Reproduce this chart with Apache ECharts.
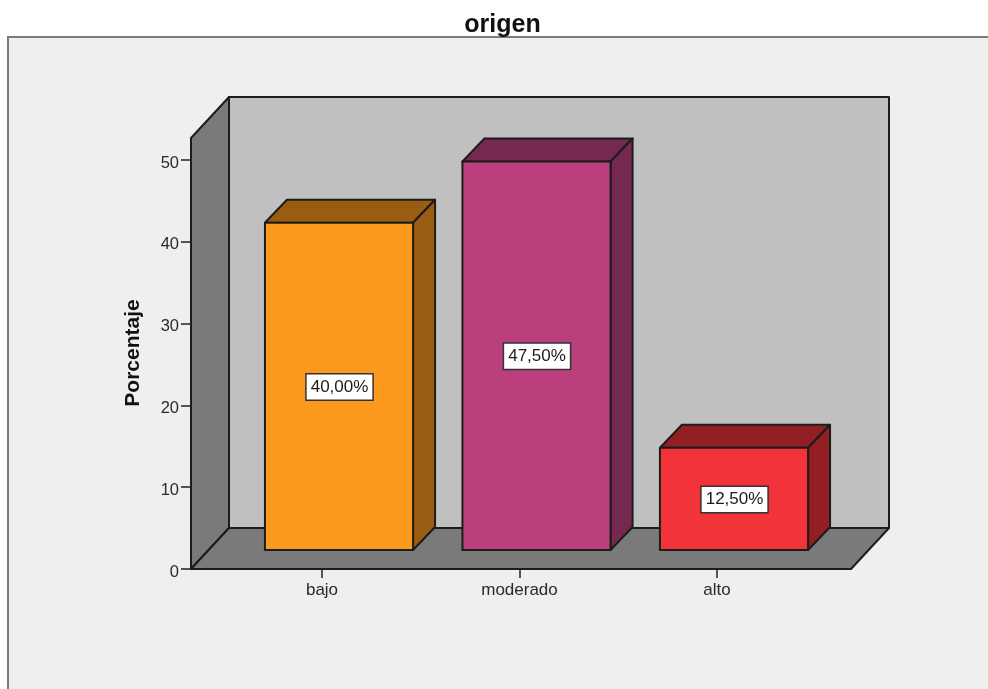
<!DOCTYPE html>
<html>
<head>
<meta charset="utf-8">
<style>
  html, body { margin: 0; padding: 0; background: #ffffff; }
  #chart { width: 988px; height: 689px; }
</style>
<script src="https://cdn.jsdelivr.net/npm/echarts@6/dist/echarts.min.js"></script>
</head>
<body>
<div id="chart"></div>
<script>
// Porcentaje por nivel de origen
const categories = ['bajo', 'moderado', 'alto'];
const porcentajes = [40.0, 47.5, 12.5];
const frontColors = ['#fb9a1d', '#bb3f7c', '#f2333a'];
const shadeColors = ['#9a5c10', '#752950', '#911f24'];
const yTicks = { min: 0, max: 50, interval: 10 };

// Depth of the box: how the floor recedes, and where bars sit on it
const FLOOR_DX = 38, FLOOR_DY = 41;
const BAR_DX = 22, BAR_DY = 23;
const BAR_SHIFT_X = 17, BAR_SHIFT_Y = 19;
const WALL_ABOVE = 22;
const AXIS_OFFSET = 32.25, FLOOR_OVERHANG = 35.25;
const LINE = '#1c1c1c', FONT = '"Liberation Sans", Arial, sans-serif';

const poly = (points, fill) => ({
  type: 'polygon',
  shape: { points },
  style: { fill, stroke: LINE, lineWidth: 2, lineJoin: 'round' }
});

// Back wall, side wall and floor, derived from the plotting area
function renderWalls(params) {
  const cs = params.coordSys;
  const left = cs.x - AXIS_OFFSET, right = cs.x + cs.width + FLOOR_OVERHANG;
  const bottom = cs.y + cs.height, top = cs.y - WALL_ABOVE;
  const dx = FLOOR_DX, dy = FLOOR_DY;
  return {
    type: 'group',
    children: [
      poly([[left + dx, top - dy], [right + dx, top - dy], [right + dx, bottom - dy], [left + dx, bottom - dy]], '#c0c0c0'),
      poly([[left, top], [left + dx, top - dy], [left + dx, bottom - dy], [left, bottom]], '#7a7a7a'),
      poly([[left, bottom], [left + dx, bottom - dy], [right + dx, bottom - dy], [right, bottom]], '#7a7a7a')
    ]
  };
}

// One extruded bar with its boxed percentage label
function renderBar(params, api) {
  const i = api.value(0), v = api.value(1);
  const band = api.size([1, 0])[0];
  const w = band * 0.75;
  const top = api.coord([i, v]);
  const base = api.coord([i, 0]);
  const x0 = base[0] + BAR_SHIFT_X - w / 2, x1 = x0 + w;
  const yT = top[1] - BAR_SHIFT_Y, yB = base[1] - BAR_SHIFT_Y;
  const dx = BAR_DX, dy = BAR_DY;
  return {
    type: 'group',
    children: [
      poly([[x0, yT], [x0 + dx, yT - dy], [x1 + dx, yT - dy], [x1, yT]], shadeColors[i]),
      poly([[x1, yT], [x1 + dx, yT - dy], [x1 + dx, yB - dy], [x1, yB]], shadeColors[i]),
      poly([[x0, yT], [x1, yT], [x1, yB], [x0, yB]], frontColors[i]),
      {
        type: 'text',
        z2: 10,
        style: {
          x: (x0 + x1) / 2 + 0.5,
          y: (yT + yB) / 2 + 0.5,
          text: v.toFixed(2).replace('.', ',') + '%',
          align: 'center',
          verticalAlign: 'middle',
          font: '17px ' + FONT,
          fill: '#1a1a1a',
          backgroundColor: '#ffffff',
          borderColor: '#333333',
          borderWidth: 1.5,
          padding: [4, 4, 4, 4]
        }
      }
    ]
  };
}

const chart = echarts.init(document.getElementById('chart'), null, { renderer: 'canvas' });
chart.setOption({
  animation: false,
  backgroundColor: '#ffffff',
  title: {
    text: 'origen',
    left: 497.5,
    top: 8,
    textAlign: 'center',
    textStyle: { fontFamily: FONT, fontSize: 25, fontWeight: 'bold', color: '#111111' }
  },
  graphic: [{
    type: 'rect',
    z: -10,
    silent: true,
    shape: { x: 8, y: 37, width: 1100, height: 800 },
    style: { fill: '#efefef', stroke: '#7b7b7b', lineWidth: 2 }
  }],
  grid: { left: 223.25, width: 592.5, top: 160, height: 409 },
  xAxis: {
    type: 'category',
    data: categories,
    axisLine: { show: false },
    axisTick: { show: true, alignWithLabel: true, length: 9, lineStyle: { color: '#222222', width: 1.5 } },
    axisLabel: { margin: 13, color: '#2a2a2a', fontFamily: FONT, fontSize: 17 },
    splitLine: { show: false }
  },
  yAxis: {
    type: 'value',
    min: yTicks.min,
    max: yTicks.max,
    interval: yTicks.interval,
    offset: AXIS_OFFSET,
    name: 'Porcentaje',
    nameLocation: 'middle',
    nameRotate: 90,
    nameGap: 47,
    nameTextStyle: { fontFamily: FONT, fontSize: 21, fontWeight: 'bold', color: '#111111', padding: [0, 0, 0, 23] },
    axisLine: { show: false },
    axisTick: { show: true, length: 10, lineStyle: { color: '#222222', width: 1.5 } },
    axisLabel: { margin: 12, color: '#2a2a2a', fontFamily: FONT, fontSize: 16.5, verticalAlign: 'top', lineHeight: 6 },
    splitLine: { show: false }
  },
  series: [
    { type: 'custom', z: 1, silent: true, data: [0], renderItem: renderWalls },
    {
      type: 'custom',
      z: 2,
      name: 'Porcentaje',
      data: porcentajes.map((v, i) => [i, v]),
      encode: { x: 0, y: 1 },
      renderItem: renderBar
    }
  ]
});
</script>
</body>
</html>
